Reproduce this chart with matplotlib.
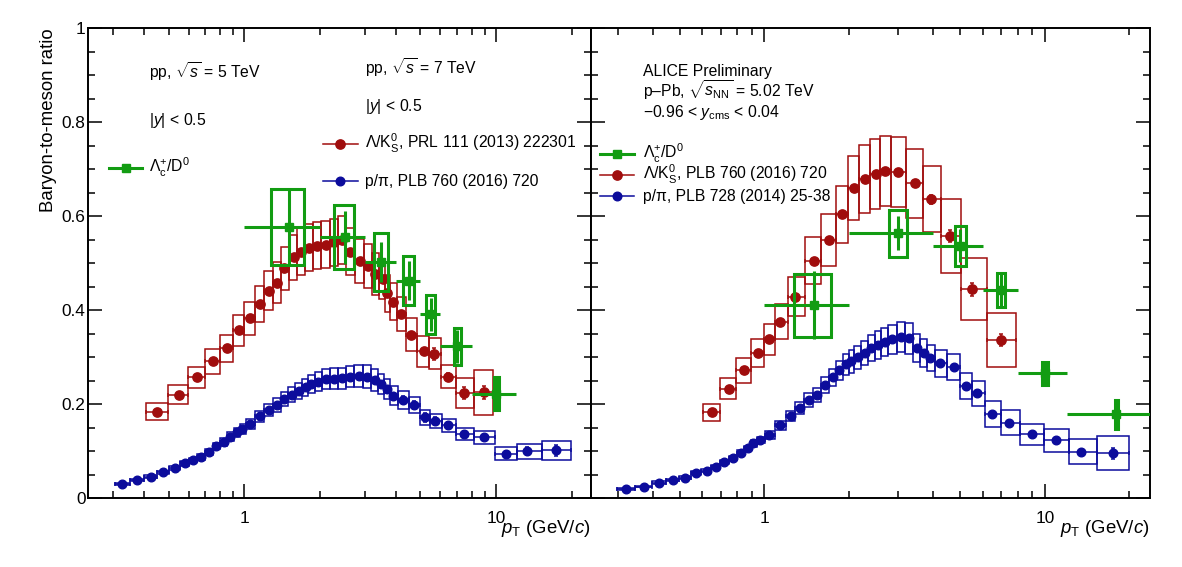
import numpy as np
import matplotlib
matplotlib.use('Agg')
import matplotlib.pyplot as plt
from matplotlib.patches import Rectangle
from matplotlib.ticker import FixedLocator, NullFormatter, FuncFormatter

plt.rcParams['font.family'] = ['Liberation Sans', 'DejaVu Sans']
plt.rcParams['mathtext.fontset'] = 'custom'
plt.rcParams['mathtext.rm'] = 'Liberation Sans'
plt.rcParams['mathtext.it'] = 'Liberation Sans:italic'
plt.rcParams['mathtext.bf'] = 'Liberation Sans:bold'

# ---------------- pp: Lambda/K0S, 7 TeV ----------------
pp_lk_pt = [0.45, 0.55, 0.65, 0.75, 0.85, 0.95, 1.05, 1.15, 1.25, 1.35, 1.44, 1.57, 1.68, 1.80, 1.94, 2.10,
            2.26, 2.44, 2.63, 2.87, 3.09, 3.31, 3.54, 3.68, 3.89, 4.18, 4.60, 5.15, 5.68, 6.44, 7.43, 8.9]
pp_lk_val = [0.184, 0.220, 0.257, 0.291, 0.319, 0.357, 0.383, 0.413, 0.442, 0.459, 0.489, 0.513, 0.525, 0.533,
             0.537, 0.539, 0.545, 0.550, 0.525, 0.505, 0.494, 0.477, 0.466, 0.436, 0.418, 0.392, 0.348, 0.313,
             0.307, 0.259, 0.224, 0.2255]
pp_lk_stat = [0.002, 0.002, 0.002, 0.002, 0.002, 0.003, 0.003, 0.003, 0.003, 0.003, 0.003, 0.003, 0.003, 0.003,
              0.003, 0.003, 0.004, 0.004, 0.004, 0.004, 0.004, 0.005, 0.005, 0.005, 0.005, 0.006, 0.006, 0.007,
              0.012, 0.008, 0.012, 0.014]
pp_lk_syst = [0.018, 0.020, 0.022, 0.026, 0.029, 0.033, 0.035, 0.038, 0.041, 0.043, 0.046, 0.048, 0.049, 0.050,
              0.050, 0.050, 0.050, 0.051, 0.049, 0.047, 0.046, 0.044, 0.043, 0.040, 0.039, 0.037, 0.035, 0.033,
              0.033, 0.025, 0.032, 0.048]

# ---------------- pp: p/pi, 7 TeV ----------------
pp_ppi_pt = [0.327, 0.375, 0.426, 0.476, 0.528, 0.580, 0.626, 0.675, 0.722, 0.774, 0.828, 0.880, 0.936, 0.979,
             1.05, 1.15, 1.25, 1.35, 1.44, 1.55, 1.64, 1.75, 1.84, 1.96, 2.10, 2.26, 2.44, 2.63, 2.84, 3.06,
             3.31, 3.49, 3.68, 3.89, 4.25, 4.73, 5.2, 5.72, 6.45, 7.43, 8.93, 10.9, 13.3, 17.3]
pp_ppi_val = [0.030, 0.039, 0.046, 0.055, 0.065, 0.0745, 0.0815, 0.0885, 0.099, 0.111, 0.120, 0.131, 0.140,
              0.147, 0.158, 0.174, 0.188, 0.1985, 0.2106, 0.220, 0.228, 0.236, 0.243, 0.248, 0.253, 0.2545,
              0.255, 0.259, 0.260, 0.259, 0.252, 0.243, 0.232, 0.218, 0.209, 0.1985, 0.172, 0.164, 0.155,
              0.1365, 0.1295, 0.0947, 0.1004, 0.1019]
pp_ppi_stat = [0.001, 0.001, 0.001, 0.001, 0.001, 0.001, 0.001, 0.001, 0.001, 0.001, 0.001, 0.001, 0.001, 0.001,
               0.001, 0.001, 0.002, 0.002, 0.002, 0.002, 0.002, 0.002, 0.002, 0.003, 0.003, 0.003, 0.004, 0.004,
               0.005, 0.005, 0.006, 0.006, 0.007, 0.007, 0.008, 0.008, 0.009, 0.008, 0.008, 0.007, 0.006, 0.006,
               0.008, 0.012]
pp_ppi_syst = [0.002, 0.003, 0.003, 0.004, 0.004, 0.005, 0.005, 0.006, 0.006, 0.007, 0.008, 0.009, 0.009, 0.010,
               0.011, 0.012, 0.013, 0.014, 0.015, 0.016, 0.017, 0.018, 0.019, 0.020, 0.021, 0.022, 0.022, 0.023,
               0.024, 0.024, 0.023, 0.022, 0.021, 0.020, 0.019, 0.018, 0.016, 0.015, 0.014, 0.013, 0.013, 0.014,
               0.016, 0.021]

# ---------------- pp: Lc/D0, 5 TeV ----------------
pp_lc_pt = [1.5, 2.5, 3.5, 4.5, 5.5, 7.0, 10.0]
pp_lc_lo = [1, 2, 3, 4, 5, 6, 8]
pp_lc_hi = [2, 3, 4, 5, 6, 8, 12]
pp_lc_val = [0.577, 0.555, 0.503, 0.463, 0.391, 0.323, 0.222]
pp_lc_stat = [0.082, 0.056, 0.043, 0.042, 0.035, 0.035, 0.036]
pp_lc_syst = [0.080, 0.068, 0.062, 0.052, 0.041, 0.039, 0.035]

# ---------------- p-Pb: Lambda/K0S ----------------
ppb_lk_pt = [0.648, 0.746, 0.846, 0.948, 1.04, 1.14, 1.29, 1.50, 1.70, 1.89, 2.08, 2.28, 2.49, 2.68, 2.99,
             3.43, 3.94, 4.58, 5.48, 7.0]
ppb_lk_val = [0.183, 0.233, 0.272, 0.3085, 0.3385, 0.376, 0.429, 0.505, 0.5496, 0.604, 0.660, 0.679, 0.690,
              0.696, 0.694, 0.670, 0.636, 0.558, 0.445, 0.337]
ppb_lk_stat = [0.003, 0.003, 0.003, 0.003, 0.003, 0.003, 0.003, 0.004, 0.004, 0.004, 0.005, 0.005, 0.005,
               0.006, 0.006, 0.008, 0.010, 0.012, 0.014, 0.013]
ppb_lk_syst = [0.018, 0.022, 0.026, 0.030, 0.033, 0.037, 0.042, 0.050, 0.055, 0.060, 0.068, 0.072, 0.074,
               0.075, 0.074, 0.074, 0.070, 0.078, 0.066, 0.057]

# ---------------- p-Pb: p/pi ----------------
ppb_ppi_pt = [0.322, 0.373, 0.422, 0.473, 0.522, 0.570, 0.622, 0.672, 0.720, 0.771, 0.826, 0.872, 0.913, 0.968,
              1.04, 1.14, 1.24, 1.34, 1.44, 1.54, 1.65, 1.75, 1.85, 1.96, 2.04, 2.15, 2.28, 2.40, 2.54, 2.68,
              2.84, 3.08, 3.29, 3.50, 3.70, 3.90, 4.22, 4.73, 5.24, 5.73, 6.48, 7.47, 8.97, 11.0, 13.4, 17.5]
ppb_ppi_val = [0.020, 0.025, 0.033, 0.039, 0.044, 0.053, 0.059, 0.067, 0.077, 0.086, 0.097, 0.106, 0.117, 0.124,
               0.135, 0.155, 0.175, 0.192, 0.209, 0.220, 0.241, 0.257, 0.272, 0.285, 0.291, 0.300, 0.309, 0.319,
               0.326, 0.333, 0.338, 0.344, 0.340, 0.319, 0.309, 0.299, 0.287, 0.279, 0.239, 0.223, 0.179, 0.161,
               0.136, 0.123, 0.099, 0.096]
ppb_ppi_stat = [0.001, 0.001, 0.001, 0.001, 0.001, 0.001, 0.001, 0.001, 0.001, 0.001, 0.001, 0.001, 0.001, 0.001,
                0.001, 0.001, 0.001, 0.001, 0.002, 0.002, 0.002, 0.002, 0.002, 0.002, 0.002, 0.002, 0.003, 0.003,
                0.003, 0.003, 0.003, 0.003, 0.003, 0.003, 0.003, 0.004, 0.004, 0.004, 0.004, 0.004, 0.004, 0.004,
                0.005, 0.005, 0.006, 0.012]
ppb_ppi_syst = [0.002, 0.002, 0.003, 0.003, 0.003, 0.004, 0.004, 0.004, 0.005, 0.005, 0.006, 0.006, 0.007, 0.007,
                0.008, 0.009, 0.010, 0.012, 0.014, 0.015, 0.017, 0.019, 0.021, 0.023, 0.024, 0.025, 0.026, 0.028,
                0.029, 0.030, 0.031, 0.032, 0.032, 0.030, 0.029, 0.028, 0.028, 0.028, 0.027, 0.027, 0.028, 0.027,
                0.022, 0.024, 0.027, 0.036]

# ---------------- p-Pb: Lc/D0 ----------------
ppb_lc_pt = [1.5, 3.0, 5.0, 7.0, 10.0, 18.0]
ppb_lc_lo = [1, 2, 4, 6, 8, 12]
ppb_lc_hi = [2, 4, 6, 8, 12, 24]
ppb_lc_val = [0.411, 0.564, 0.537, 0.443, 0.266, 0.179]
ppb_lc_stat = [0.072, 0.036, 0.035, 0.037, 0.0245, 0.031]
ppb_lc_syst = [0.067, 0.050, 0.043, 0.037, 0.0245, 0.031]

RED = '#a00d0d'
BLUE = '#0c0c9c'
GREEN = '#129c12'
LC_BOX_HW = 0.23  # half width of the Lc syst boxes in GeV/c

XMIN, XMAX = 0.24, 23.7


def bin_edges(pt):
    # bin edges half way (in log) between neighbouring points
    lp = np.log10(pt)
    mid = (lp[1:] + lp[:-1]) / 2
    lo = np.r_[2 * lp[0] - mid[0], mid]
    hi = np.r_[mid, 2 * lp[-1] - mid[-1]]
    return 10 ** lo, 10 ** hi


def draw_meson(ax, pt, val, stat, syst, color, ms):
    pt = np.array(pt); val = np.array(val)
    lo, hi = bin_edges(pt)
    for x0, x1, v, s in zip(lo, hi, val, syst):
        ax.add_patch(Rectangle((x0, v - s), x1 - x0, 2 * s, fill=False, ec=color, lw=1.1, zorder=2))
    ax.errorbar(pt, val, yerr=stat, xerr=[pt - lo, hi - pt], fmt='o', ms=ms, color=color,
                elinewidth=1.1, capsize=1.5, capthick=1.1, zorder=3)


def draw_lc(ax, pt, lo, hi, val, stat, syst):
    pt = np.array(pt); val = np.array(val)
    for x, v, s in zip(pt, val, syst):
        ax.add_patch(Rectangle((x - LC_BOX_HW, v - s), 2 * LC_BOX_HW, 2 * s, fill=False, ec=GREEN,
                               lw=2.2, zorder=4))
    ax.errorbar(pt, val, yerr=stat, xerr=[pt - np.array(lo), np.array(hi) - pt], fmt='s', ms=6,
                color=GREEN, elinewidth=2.2, capsize=0, zorder=5)


def key(ax, x0, x1, y, color, marker, lw, ms, label, xt, yt):
    # legend entry drawn ROOT style: line with marker, then text
    ax.plot([x0, x1], [y, y], color=color, lw=lw, transform=ax.transAxes, clip_on=False)
    ax.plot([(x0 + x1) / 2], [y], marker=marker, ms=ms, color=color, transform=ax.transAxes, clip_on=False)
    ax.text(xt, yt, label, transform=ax.transAxes, fontsize=11.3, va='baseline', ha='left')


def style_axes(ax, ylabels):
    ax.set_xscale('log')
    ax.set_xlim(XMIN, XMAX)
    ax.set_ylim(0, 1)
    ax.xaxis.set_major_locator(FixedLocator([1, 10]))
    ax.xaxis.set_major_formatter(FuncFormatter(lambda v, p: '%g' % v))
    ax.xaxis.set_minor_locator(FixedLocator([0.3, 0.4, 0.5, 0.6, 0.7, 0.8, 0.9,
                                             2, 3, 4, 5, 6, 7, 8, 9, 20]))
    ax.xaxis.set_minor_formatter(NullFormatter())
    ax.yaxis.set_major_locator(FixedLocator([0, 0.2, 0.4, 0.6, 0.8, 1.0]))
    ax.yaxis.set_minor_locator(FixedLocator(np.arange(0, 1.0001, 0.05)))
    ax.yaxis.set_major_formatter(FuncFormatter(lambda v, p: '%g' % v))
    ax.tick_params(which='both', direction='in', top=True, right=True, width=1.1)
    ax.tick_params(which='major', length=10)
    ax.tick_params(which='minor', length=5)
    ax.tick_params(axis='x', labelsize=12.4, pad=9)
    ax.tick_params(axis='y', labelsize=12.4, pad=2, labelleft=ylabels)
    for sp in ax.spines.values():
        sp.set_linewidth(1.4)
    ax.set_xlabel(r'$p_{\rm T}$ (GeV/$c$)', fontsize=13.4, loc='right')
    ax.xaxis.set_label_coords(1.0, -0.042)


fig = plt.figure(figsize=(11.82, 5.67), dpi=100)
axl = fig.add_axes([0.0747, 0.1212, 0.4250, 0.8290])
axr = fig.add_axes([0.4997, 0.1212, 0.4732, 0.8290])

# left panel: pp
draw_meson(axl, pp_lk_pt, pp_lk_val, pp_lk_stat, pp_lk_syst, RED, 6.7)
draw_meson(axl, pp_ppi_pt, pp_ppi_val, pp_ppi_stat, pp_ppi_syst, BLUE, 6.2)
draw_lc(axl, pp_lc_pt, pp_lc_lo, pp_lc_hi, pp_lc_val, pp_lc_stat, pp_lc_syst)
style_axes(axl, True)
axl.set_ylabel('Baryon-to-meson ratio', fontsize=13.4, loc='top')
axl.yaxis.set_label_coords(-0.062, 1.0)

axl.text(0.1207, 0.8949, r'pp, $\sqrt{s}$ = 5 TeV', transform=axl.transAxes, fontsize=11.3, va='baseline')
axl.text(0.1207, 0.7944, r'|$y$| < 0.5', transform=axl.transAxes, fontsize=11.3, va='baseline')
key(axl, 0.0412, 0.1073, 0.7034, GREEN, 's', 2.2, 6, r'$\Lambda_{\rm c}^{+}$/D$^{0}$', 0.1207, 0.6928)
axl.text(0.5507, 0.9028, r'pp, $\sqrt{s}$ = 7 TeV', transform=axl.transAxes, fontsize=11.3, va='baseline')
axl.text(0.5507, 0.8244, r'|$y$| < 0.5', transform=axl.transAxes, fontsize=11.3, va='baseline')
key(axl, 0.4671, 0.5368, 0.7539, RED, 'o', 1.1, 6.7, r'$\Lambda$/K$^{0}_{\rm S}$, PRL 111 (2013) 222301',
    0.5507, 0.7433)
key(axl, 0.4671, 0.5368, 0.6751, BLUE, 'o', 1.1, 6.2, 'p/π, PLB 760 (2016) 720', 0.5507, 0.6645)

# right panel: p-Pb
draw_meson(axr, ppb_lk_pt, ppb_lk_val, ppb_lk_stat, ppb_lk_syst, RED, 6.7)
draw_meson(axr, ppb_ppi_pt, ppb_ppi_val, ppb_ppi_stat, ppb_ppi_syst, BLUE, 6.2)
draw_lc(axr, ppb_lc_pt, ppb_lc_lo, ppb_lc_hi, ppb_lc_val, ppb_lc_stat, ppb_lc_syst)
style_axes(axr, False)

axr.text(0.0935, 0.8992, 'ALICE Preliminary', transform=axr.transAxes, fontsize=11.3, va='baseline')
axr.text(0.0935, 0.8545, r'p–Pb, $\sqrt{s_{\rm NN}}$ = 5.02 TeV', transform=axr.transAxes, fontsize=11.3,
         va='baseline')
axr.text(0.0935, 0.8120, r'−0.96 < $y_{\rm cms}$ < 0.04', transform=axr.transAxes, fontsize=11.3,
         va='baseline')
key(axr, 0.0166, 0.0774, 0.7326, GREEN, 's', 2.2, 6, r'$\Lambda_{\rm c}^{+}$/D$^{0}$', 0.0935, 0.7220)
key(axr, 0.0166, 0.0774, 0.6879, RED, 'o', 1.1, 6.7, r'$\Lambda$/K$^{0}_{\rm S}$, PLB 760 (2016) 720',
    0.0935, 0.6773)
key(axr, 0.0166, 0.0774, 0.6432, BLUE, 'o', 1.1, 6.2, 'p/π, PLB 728 (2014) 25-38', 0.0935, 0.6326)

fig.savefig('out.png', dpi=100, facecolor='white')
